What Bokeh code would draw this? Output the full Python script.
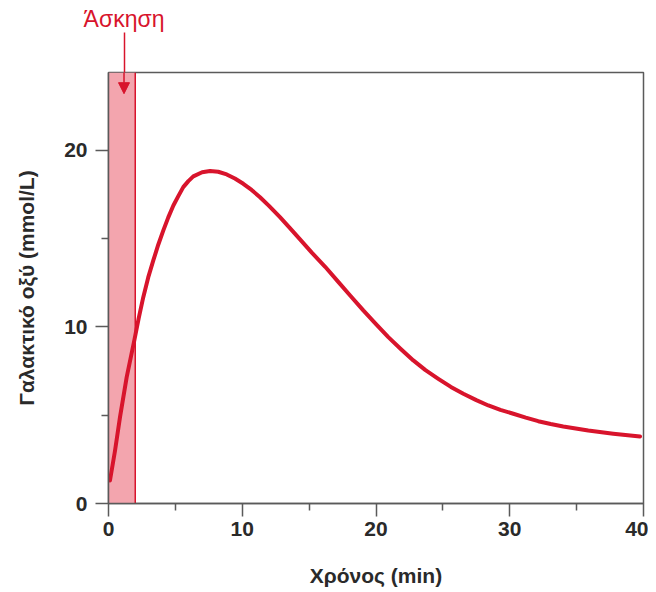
from bokeh.plotting import figure
from bokeh.models import (Range1d, FixedTicker, BoxAnnotation, Arrow,
                          NormalHead, LinearAxis)
from bokeh.embed import file_html
from bokeh.resources import INLINE

# Data
time_min = [0.11, 0.49, 0.86, 1.36, 1.93, 2.26, 2.60, 2.97, 3.35, 3.72, 4.10,
            4.47, 4.85, 5.22, 5.59, 5.97, 6.34, 7.0, 7.59, 8.2, 8.84, 9.45,
            10.08, 10.7, 11.33, 12.0, 12.82, 13.55, 14.32, 15.2, 16.2, 17.18,
            18.1, 19.05, 20.0, 20.92, 21.85, 22.79, 23.7, 24.66, 25.6, 26.53,
            27.5, 28.4, 29.3, 30.27, 31.2, 32.13, 33.06, 34.0, 35.87, 37.74,
            39.74]
lactate = [1.30, 3.0, 4.89, 7.15, 9.23, 10.5, 11.68, 12.8, 13.76, 14.65, 15.46,
           16.2, 16.87, 17.4, 17.91, 18.25, 18.52, 18.75, 18.82, 18.78, 18.63,
           18.40, 18.10, 17.75, 17.34, 16.85, 16.21, 15.6, 14.95, 14.2, 13.4,
           12.55, 11.75, 10.93, 10.15, 9.42, 8.75, 8.10, 7.55, 7.06, 6.6, 6.21,
           5.85, 5.55, 5.3, 5.08, 4.86, 4.66, 4.5, 4.36, 4.13, 3.95, 3.79]

x_ticks = [0, 10, 20, 30, 40]
x_minor = [5, 15, 25, 35]
y_ticks = [0, 10, 20]
y_minor = [5, 15]

x_min, x_max = 0, 40
y_min, y_max = 0, 24.4

exercise_start = 0
exercise_end = 2
exercise_label = "Άσκηση"
arrow_x = 1.16
arrow_y_end = 23.2

RED = "#d8142c"
GRAY = "#5a5a5a"
FONT = "Liberation Sans"

p = figure(frame_width=535, frame_height=431, output_backend="svg",
           toolbar_location=None,
           x_range=Range1d(x_min, x_max), y_range=Range1d(y_min, y_max),
           min_border_left=108, min_border_top=72, min_border_right=5,
           min_border_bottom=81)
p.background_fill_color = "white"
p.border_fill_color = "white"
p.grid.visible = False
p.outline_line_color = GRAY
p.outline_line_width = 1.5

# exercise band (under the curve)
band = BoxAnnotation(left=exercise_start, right=exercise_end,
                     fill_color="#f3a5ae", fill_alpha=1.0,
                     line_alpha=0, level="underlay")
p.add_layout(band)
p.segment(x0=[exercise_end], y0=[y_min], x1=[exercise_end], y1=[y_max],
          line_color=RED, line_width=1.5)

p.line(time_min, lactate, line_color=RED, line_width=4, line_join="round",
       line_cap="round")

for ax in (p.xaxis[0], p.yaxis[0]):
    ax.axis_line_color = GRAY
    ax.axis_line_width = 1.5
    ax.major_tick_line_color = GRAY
    ax.minor_tick_line_color = GRAY
    ax.major_tick_line_width = 1.5
    ax.minor_tick_line_width = 1.5
    ax.major_tick_in = 0
    ax.minor_tick_in = 0
    ax.major_tick_out = 13
    ax.minor_tick_out = 7
    ax.major_label_text_font = FONT
    ax.major_label_text_font_style = "bold"
    ax.major_label_text_font_size = "21px"
    ax.major_label_text_color = "#2a2a2a"
    ax.axis_label_text_font = FONT
    ax.axis_label_text_font_style = "bold"
    ax.axis_label_text_font_size = "21px"
    ax.axis_label_text_color = "#2a2a2a"

p.xaxis[0].ticker = FixedTicker(ticks=x_ticks, minor_ticks=x_minor)
p.yaxis[0].ticker = FixedTicker(ticks=y_ticks, minor_ticks=y_minor)
p.xaxis[0].major_label_standoff = 5
p.yaxis[0].major_label_standoff = 8
p.xaxis[0].axis_label = "Χρόνος (min)"
p.yaxis[0].axis_label = "Γαλακτικό οξύ (mmol/L)"
p.xaxis[0].axis_label_standoff = 25
p.yaxis[0].axis_label_standoff = 23

# annotation "Άσκηση" with its arrow: label + stem above the box
top_axis = LinearAxis(ticker=FixedTicker(ticks=[arrow_x], minor_ticks=[]),
                      major_label_overrides={arrow_x: exercise_label})
top_axis.axis_line_color = None
top_axis.major_tick_line_color = RED
top_axis.major_tick_line_width = 1.5
top_axis.major_tick_in = 0
top_axis.major_tick_out = 40
top_axis.minor_tick_line_color = None
top_axis.major_label_standoff = 1
top_axis.major_label_text_font = FONT
top_axis.major_label_text_font_size = "23px"
top_axis.major_label_text_color = RED
p.add_layout(top_axis, "above")

p.add_layout(Arrow(x_start=arrow_x, y_start=y_max, x_end=arrow_x,
                   y_end=arrow_y_end, line_color=RED, line_width=1.5,
                   end=NormalHead(size=11, fill_color=RED, line_color=RED)))

open("out.html", "w").write(file_html(p, INLINE))
